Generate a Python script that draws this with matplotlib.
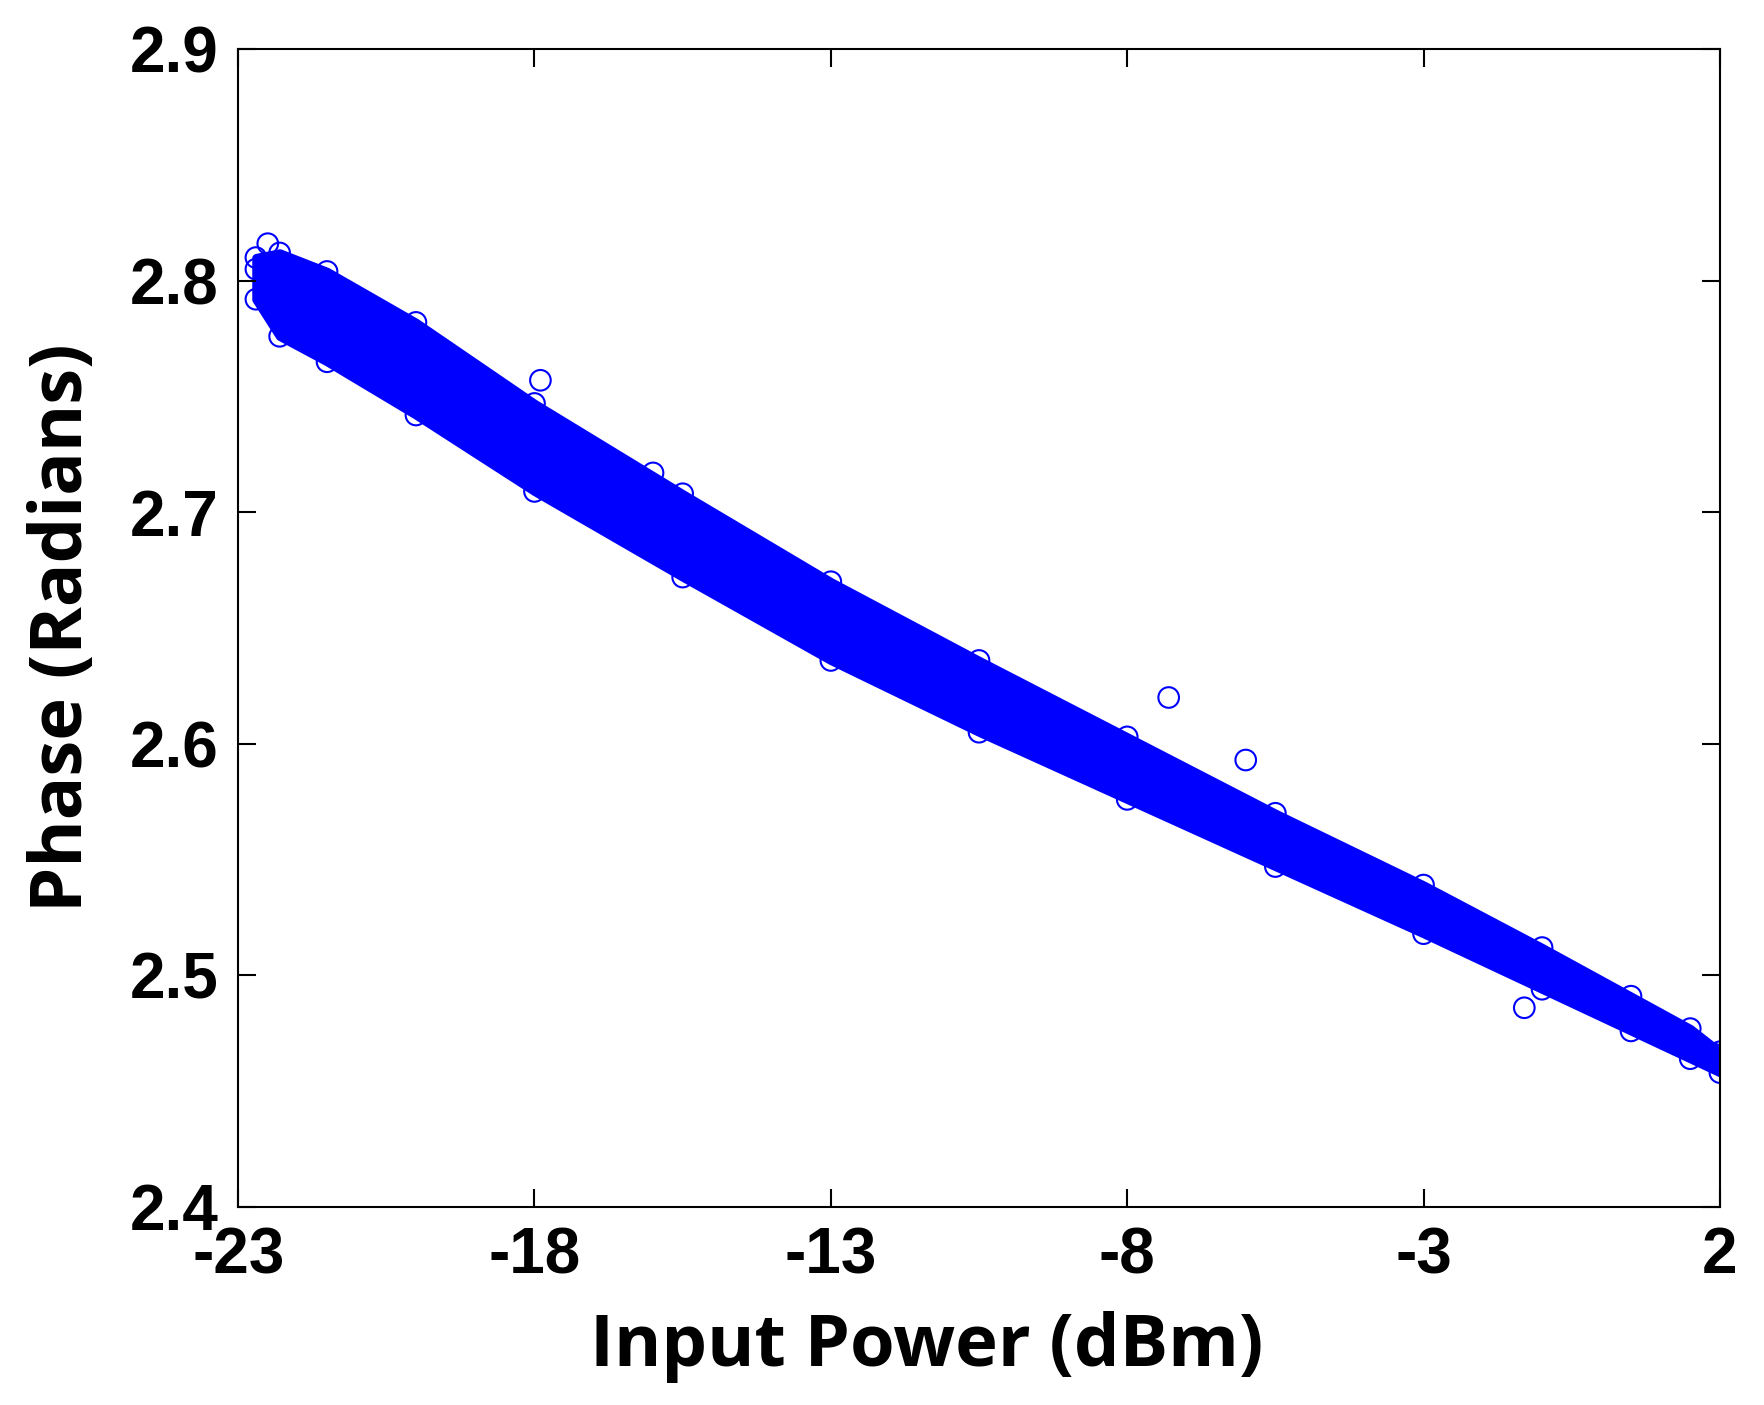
import matplotlib
matplotlib.use("Agg")
import matplotlib.pyplot as plt
plt.rcParams['axes.unicode_minus'] = False

# Envelope of the dense scatter band
env_x = [-22.7, -22.3, -21.5, -20, -18, -15.5, -13, -10.5, -8, -5.5, -3, -1, 0.5, 1.5, 2.0]
env_upper = [2.810, 2.812, 2.804, 2.782, 2.747, 2.708, 2.670, 2.636, 2.603, 2.570, 2.539, 2.512, 2.491, 2.477, 2.467]
env_lower = [2.792, 2.776, 2.765, 2.742, 2.709, 2.672, 2.636, 2.605, 2.576, 2.547, 2.518, 2.494, 2.476, 2.464, 2.458]
# a few isolated points visible at the band edges
out_x = [-22.5, -22.7, -17.9, -16.0, -12.4, -7.3, -6.0, -1.3, 1.6, 1.9]
out_y = [2.816, 2.805, 2.757, 2.717, 2.652, 2.620, 2.593, 2.486, 2.470, 2.466]

fig = plt.figure(figsize=(17.64, 14.05), dpi=100)
ax = fig.add_axes([0.135, 0.141, 0.840, 0.824])
ax.fill_between(env_x, env_lower, env_upper, color="#0000ff", lw=6, edgecolor="#0000ff")
ax.scatter(out_x, out_y, s=220, facecolors="none", edgecolors="#0000ff", linewidths=1.5)
ax.scatter(env_x, env_upper, s=220, facecolors="none", edgecolors="#0000ff", linewidths=1.5)
ax.scatter(env_x, env_lower, s=220, facecolors="none", edgecolors="#0000ff", linewidths=1.5)

ax.set_xlim(-23, 2)
ax.set_ylim(2.4, 2.9)
ax.set_xticks([-23, -18, -13, -8, -3, 2])
ax.set_yticks([2.4, 2.5, 2.6, 2.7, 2.8, 2.9])
ax.set_yticklabels(["2.4", "2.5", "2.6", "2.7", "2.8", "2.9"])
ax.tick_params(direction="in", length=13, width=1.5, top=True, right=True, pad=14)
for lab in ax.get_xticklabels() + ax.get_yticklabels():
    lab.set_fontfamily("Liberation Sans")
    lab.set_fontweight("bold")
    lab.set_fontsize(46)
for s in ax.spines.values():
    s.set_linewidth(1.5)
ax.set_xlabel("Input Power (dBm)", fontfamily="Open Sans", fontweight="bold", fontsize=52, labelpad=8)
ax.xaxis.set_label_coords(0.465, -0.09)
ax.set_ylabel("Phase (Radians)", fontfamily="Open Sans", fontweight="bold", fontsize=52, labelpad=22)
fig.savefig("out.png", dpi=100)
